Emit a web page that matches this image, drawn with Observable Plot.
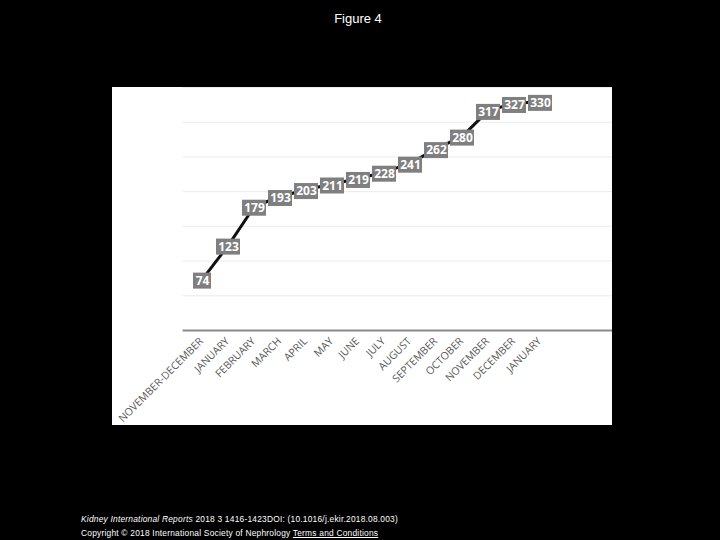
<!DOCTYPE html>
<html>
<head>
<meta charset="utf-8">
<script src="https://cdn.jsdelivr.net/npm/d3@7"></script>
<script src="https://cdn.jsdelivr.net/npm/@observablehq/plot@0.6"></script>
<style>
  html, body { margin: 0; padding: 0; background: #000; }
  body { width: 720px; height: 540px; position: relative; overflow: hidden; font-family: "Liberation Sans", Arial, sans-serif; }
  #title { position: absolute; left: 0; width: 716px; top: 11px; text-align: center; color: #fff; font-size: 13px; }
  #chart { position: absolute; left: 112px; top: 87px; width: 500px; height: 338px; background: #fff; }
  #caption { position: absolute; left: 81px; top: 512px; color: #fff; font-size: 8.4px; letter-spacing: 0.22px; line-height: 14px; white-space: nowrap; }
  #caption a { color: #fff; text-decoration: underline; }
</style>
</head>
<body>
<div id="title">Figure 4</div>
<div id="chart"></div>
<div id="caption">
  <div><i>Kidney International Reports</i> 2018 3 1416-1423DOI: (10.1016/j.ekir.2018.08.003)</div>
  <div>Copyright © 2018 International Society of Nephrology <a>Terms and Conditions</a></div>
</div>
<script>
const months = ["NOVEMBER-DECEMBER","JANUARY","FEBRUARY","MARCH","APRIL","MAY","JUNE","JULY","AUGUST","SEPTEMBER","OCTOBER","NOVEMBER","DECEMBER","JANUARY "];
const counts = [74,123,179,193,203,211,219,228,241,262,280,317,327,330];
const emptySlots = ["_e1","_e2"];
const yTicks = [50,100,150,200,250,300,350];

const data = months.map((m, i) => ({month: m, value: counts[i]}));

function boxes(index, scales, values) {
  const g = d3.create("svg:g");
  for (const i of index) {
    const n = String(data[i].value).length;
    const w = 6 + 6 * n;
    const h = 16;
    g.append("rect")
      .attr("x", values.x[i] - w / 2)
      .attr("y", values.y[i] - h / 2 + 2)
      .attr("width", w)
      .attr("height", h)
      .attr("fill", "#7f7f7f");
  }
  return g.node();
}

const plot = Plot.plot({
  width: 500,
  height: 338,
  marginLeft: 70.6,
  marginRight: 0,
  marginTop: 0,
  marginBottom: 95,
  style: {background: "#fff", fontFamily: "'Open Sans', sans-serif"},
  x: {type: "point", domain: months.concat(emptySlots), padding: 0.5, label: null},
  y: {domain: [0, 350], axis: null},
  marks: [
    Plot.ruleY(yTicks, {stroke: "#ebebeb", strokeWidth: 1}),
    Plot.ruleY([0], {stroke: "#8a8a8a", strokeWidth: 2}),
    Plot.axisX({
      tickRotate: -45,
      tickSize: 0,
      tickPadding: 6,
      fontSize: 10.5,
      fill: "#595959",
      dx: -1,
      dy: 3,
      tickFormat: d => emptySlots.includes(d) ? "" : d.trim(),
      label: null
    }),
    Plot.line(data, {x: "month", y: "value", stroke: "#111", strokeWidth: 3}),
    Plot.dot(data, {x: "month", y: "value", render: boxes}),
    Plot.text(data, {x: "month", y: "value", text: d => String(d.value), fill: "#fff", fontWeight: "bold", fontSize: 12, dy: 2})
  ]
});
document.getElementById("chart").appendChild(plot);
</script>
</body>
</html>
